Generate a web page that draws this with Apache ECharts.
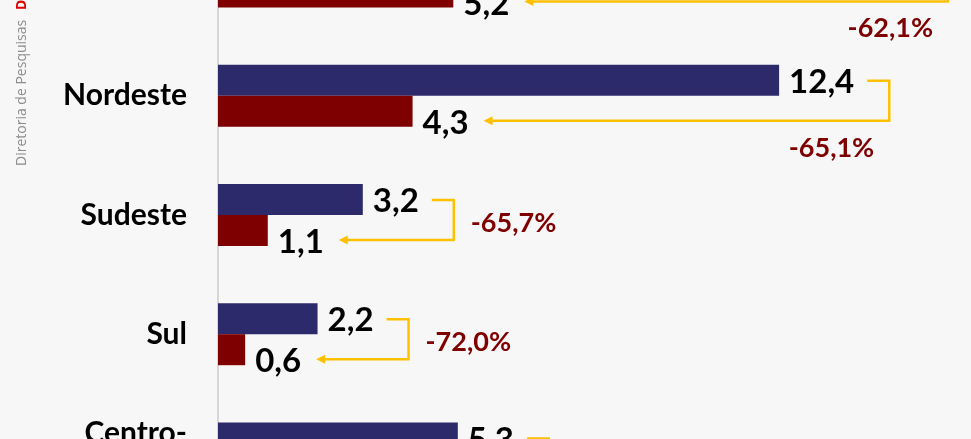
<!DOCTYPE html>
<html><head><meta charset="utf-8">
<script src="https://cdn.jsdelivr.net/npm/echarts@6/dist/echarts.min.js"></script>
<style>html,body{margin:0;padding:0;background:#f7f7f7;overflow:hidden;width:971px;height:439px}
#wrap{position:relative;width:971px;height:439px;overflow:hidden}
#c{position:absolute;left:0;top:-83px;width:971px;height:596px}</style>
</head><body><div id="wrap"><div id="c"></div></div>
<script>
// Data
const categories = ['Norte', 'Nordeste', 'Sudeste', 'Sul', 'Centro-\nOeste'];
const valuesBefore = [13.7, 12.4, 3.2, 2.2, 5.3];
const valuesAfter = [5.2, 4.3, 1.1, 0.6, 1.8];
const changePct = [-62.1, -65.1, -65.7, -72.0, -66.0];

const BLUE = '#2d2a6b', RED = '#7f0000', GOLD = '#ffc000';
const VAL_SIZE = 33;
const VAL_FONT = 'bold ' + VAL_SIZE + 'px Lato';
const PCT_FONT = 'bold 27px Lato';
const OFF = 83; // container shift
const fmt = v => v.toFixed(1).replace('.', ',');
const fmtPct = v => v.toFixed(1).replace('.', ',') + '%';

const mctx = document.createElement('canvas').getContext('2d');
function tw(t, f) { mctx.font = f; return mctx.measureText(t).width; }

const chart = echarts.init(document.getElementById('c'), null, {renderer: 'canvas'});

function renderBracket(params, api) {
  const i = api.value(0);
  const b = api.value(1), r = api.value(2), p = api.value(3);
  const c = api.coord([0, i]);
  const blueEnd = api.coord([b, i])[0];
  const redEnd = api.coord([r, i])[0];
  const yTop = c[1] - 15;
  const yBot = c[1] + 25;
  const start = blueEnd + 10 + tw(fmt(b), VAL_FONT) + 13;
  const tip = redEnd + 10 + tw(fmt(r), VAL_FONT) + 15;
  const right = Math.max(start + 22, tip + 85);
  const lineStyle = {stroke: GOLD, lineWidth: 2.5, fill: null};
  const children = [
    {type: 'polyline', shape: {points: [[start, yTop], [right, yTop], [right, yBot], [tip + 6, yBot]]}, style: lineStyle},
    {type: 'polygon', shape: {points: [[tip, yBot], [tip + 9, yBot - 4.5], [tip + 9, yBot + 4.5]]}, style: {fill: GOLD}}
  ];
  let txt;
  if (right > 700) {
    txt = {x: right - 15, y: yBot + 27, align: 'right'};
  } else {
    txt = {x: right + 17, y: (yTop + yBot) / 2 + 3, align: 'left'};
  }
  children.push({type: 'text', style: {x: txt.x, y: txt.y, text: fmtPct(p), fill: RED, font: PCT_FONT, align: txt.align, verticalAlign: 'middle'}});
  return {type: 'group', children: children};
}

chart.setOption({
  backgroundColor: '#f7f7f7',
  animation: false,
  grid: {left: 218, right: 29, top: 0, bottom: 0, containLabel: false, outerBoundsMode: 'none'},
  xAxis: {type: 'value', min: 0, max: 16, show: false, splitLine: {show: false}},
  yAxis: {
    type: 'category', data: categories, inverse: true,
    axisTick: {show: false},
    axisLine: {show: true, lineStyle: {color: '#d6d6d6', width: 2}},
    axisLabel: {fontFamily: 'Lato', fontWeight: 'bold', fontSize: 30, color: '#000', margin: 31, lineHeight: 40}
  },
  graphic: [
    {type: 'text', x: 22, y: 166 + OFF, rotation: Math.PI / 2, style: {text: 'Diretoria de Pesquisas', font: '14px "Open Sans"', fill: '#8c8c8c', align: 'left', verticalAlign: 'middle'}},
    {type: 'text', x: 22, y: 10 + OFF, rotation: Math.PI / 2, style: {text: 'DPE', font: 'bold 14px "Open Sans"', fill: '#e00000', align: 'left', verticalAlign: 'middle'}}
  ],
  series: [
    {type: 'bar', name: 'antes', data: valuesBefore, barWidth: 31, barGap: '0%',
     itemStyle: {color: BLUE},
     label: {show: true, position: 'right', distance: 10, offset: [0, 2], formatter: p => fmt(p.value), fontFamily: 'Lato', fontWeight: 'bold', fontSize: VAL_SIZE, color: '#000'}},
    {type: 'bar', name: 'depois', data: valuesAfter, barWidth: 31, barGap: '0%',
     itemStyle: {color: RED},
     label: {show: true, position: 'right', distance: 10, offset: [0, 12], formatter: p => fmt(p.value), fontFamily: 'Lato', fontWeight: 'bold', fontSize: VAL_SIZE, color: '#000'}},
    {type: 'custom', name: 'variação', renderItem: renderBracket,
     encode: {x: [1, 2], y: 0},
     data: categories.map((c, i) => [i, valuesBefore[i], valuesAfter[i], changePct[i]]),
     clip: false, z: 5}
  ]
});
</script>
</body></html>
